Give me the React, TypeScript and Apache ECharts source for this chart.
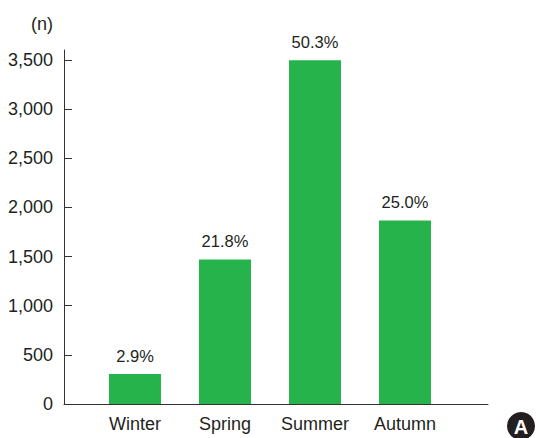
import React, { useEffect, useRef } from "react";
import * as echarts from "echarts";

const categories = ["Winter", "Spring", "Summer", "Autumn"];
const counts = [305, 1470, 3495, 1866];
const percentLabels = ["2.9%", "21.8%", "50.3%", "25.0%"];
const yTicks = [0, 500, 1000, 1500, 2000, 2500, 3000, 3500];

const FONT = "'Liberation Sans', Arial, Helvetica, sans-serif";
const TEXT = "#231f20";
const GREEN = "#26b34b";

export default function App() {
  const ref = useRef<HTMLDivElement>(null);
  useEffect(() => {
    if (!ref.current) return;
    const chart = echarts.init(ref.current, undefined, { renderer: "svg" });
    chart.setOption({
      animation: false,
      backgroundColor: "#ffffff",
      textStyle: { fontFamily: FONT, color: TEXT },
      grid: [
        { left: 64, right: 48, top: 50, bottom: 34, containLabel: false },
        { left: 90, width: 360, top: 50, bottom: 34, containLabel: false },
      ],
      xAxis: [
        {
          gridIndex: 0,
          type: "value",
          min: 0,
          max: 1,
          axisLine: { show: true, lineStyle: { color: "#333", width: 1 } },
          axisTick: { show: false },
          axisLabel: { show: false },
          splitLine: { show: false },
        },
        {
          gridIndex: 1,
          type: "category",
          data: categories,
          axisLine: { show: false },
          axisTick: { show: false },
          axisLabel: {
            fontFamily: FONT,
            fontSize: 18,
            color: TEXT,
            margin: 11,
          },
        },
      ],
      yAxis: [
        {
          gridIndex: 0,
          type: "value",
          min: 0,
          max: 3600,
          interval: 500,
          name: "(n)",
          nameLocation: "end",
          nameGap: 26,
          nameTextStyle: {
            fontFamily: FONT,
            fontSize: 18,
            color: TEXT,
            align: "right",
            verticalAlign: "middle",
            padding: [0, 11, 0, 0],
          },
          axisLine: { show: true, lineStyle: { color: "#333", width: 1 } },
          axisTick: {
            show: true,
            inside: true,
            length: 8,
            customValues: yTicks,
            lineStyle: { color: "#333", width: 1 },
          },
          axisLabel: {
            customValues: yTicks,
            fontFamily: FONT,
            fontSize: 18,
            color: TEXT,
            margin: 11,
            formatter: (v: number) => v.toLocaleString("en-US"),
          },
          splitLine: { show: false },
        },
        {
          gridIndex: 1,
          type: "value",
          min: 0,
          max: 3600,
          show: false,
          splitLine: { show: false },
        },
      ],
      series: [
        {
          type: "bar",
          xAxisIndex: 1,
          yAxisIndex: 1,
          data: counts,
          barWidth: 52,
          itemStyle: { color: GREEN },
          label: {
            show: true,
            position: "top",
            distance: 10,
            fontFamily: FONT,
            fontSize: 16.5,
            color: TEXT,
            formatter: (p: any) => percentLabels[p.dataIndex],
          },
        },
      ],
      graphic: [
        {
          type: "circle",
          shape: { cx: 521, cy: 426, r: 14 },
          style: { fill: "#231f20" },
        },
        {
          type: "text",
          x: 521,
          y: 427,
          style: {
            text: "A",
            fill: "#ffffff",
            font: `bold 20px ${FONT}`,
            align: "center",
            verticalAlign: "middle",
          },
        },
      ],
    });
    return () => chart.dispose();
  }, []);
  return <div ref={ref} style={{ width: 536, height: 438, position: "absolute", left: 0, top: 0 }} />;
}
